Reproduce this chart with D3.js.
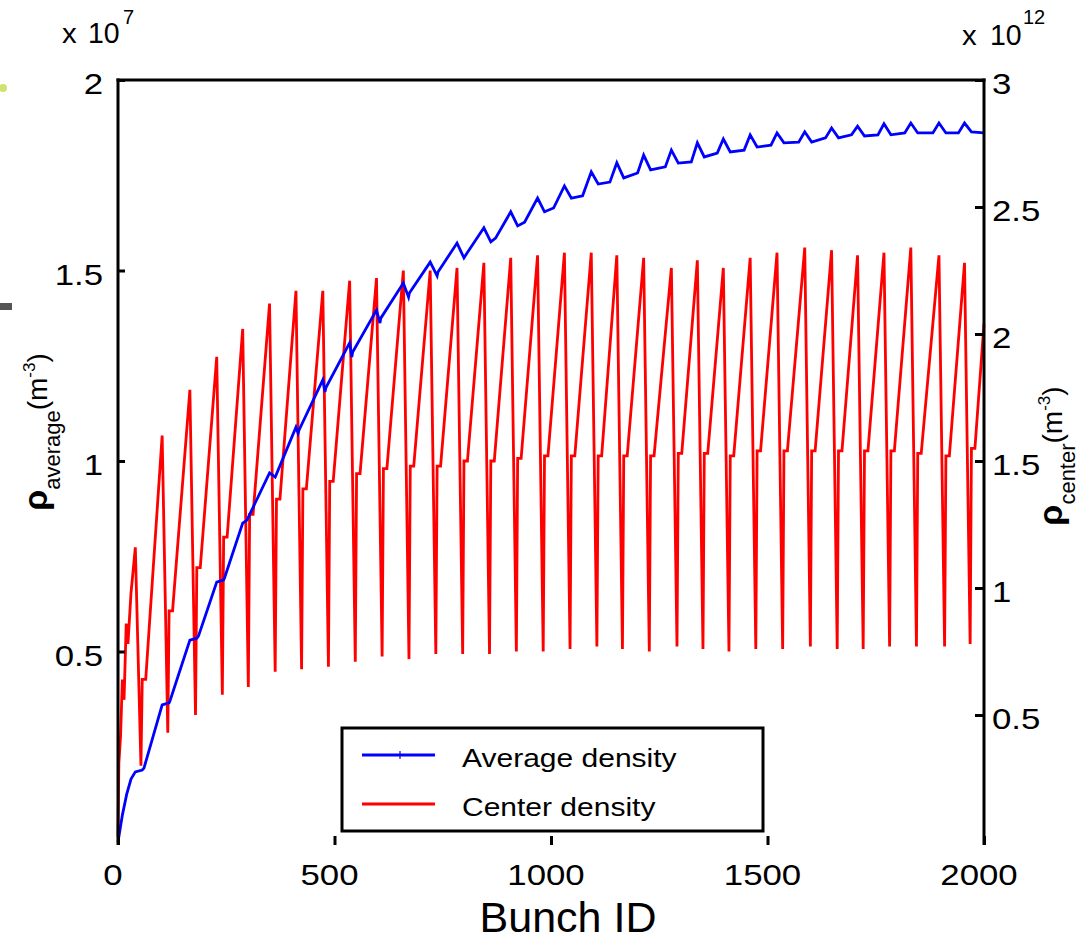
<!DOCTYPE html>
<html>
<head>
<meta charset="utf-8">
<script src="https://cdnjs.cloudflare.com/ajax/libs/d3/7.8.5/d3.min.js"></script>
<style>
  html, body { margin: 0; padding: 0; background: #fff; }
  svg { display: block; }
  text { font-family: "Liberation Sans", Arial, sans-serif; fill: #000; }
</style>
</head>
<body>
<div id="chart"></div>
<script>
// ---- values ----
var xTicks = [0, 500, 1000, 1500, 2000];
var leftTicks = [0.5, 1, 1.5, 2];            // x 10^7
var rightTicks = [0.5, 1, 1.5, 2, 2.5, 3];   // x 10^12

// bunch ID at the head of each train (where the center density spikes)
var trainBunch = [40, 102, 166, 228, 288, 350, 411, 473, 535, 597, 659, 721, 783, 845, 907, 969,
    1031, 1093, 1152, 1214, 1278, 1338, 1398, 1460, 1522, 1586, 1648, 1708, 1769, 1831, 1896, 1955];

// center density (x 10^12): spike top, bottom of the drop, level it jumps back to
var centerPeak = [1.16, 1.60, 1.78, 1.91, 2.02, 2.12, 2.17, 2.17, 2.21, 2.22, 2.25, 2.25, 2.26, 2.28, 2.30, 2.31,
    2.32, 2.32, 2.31, 2.30, 2.26, 2.29, 2.26, 2.30, 2.32, 2.34, 2.33, 2.31, 2.32, 2.34, 2.31, 2.28];
var centerLow = [0.30, 0.43, 0.50, 0.58, 0.61, 0.67, 0.68, 0.69, 0.71, 0.73, 0.72, 0.74, 0.74, 0.74, 0.75, 0.75,
    0.76, 0.77, 0.76, 0.75, 0.77, 0.76, 0.75, 0.76, 0.76, 0.77, 0.76, 0.76, 0.77, 0.77, 0.77, 0.78];
var centerMid = [0.64, 0.91, 1.08, 1.20, 1.29, 1.35, 1.39, 1.42, 1.45, 1.47, 1.48, 1.48, 1.50, 1.50, 1.51, 1.52,
    1.52, 1.52, 1.52, 1.52, 1.53, 1.53, 1.52, 1.54, 1.54, 1.54, 1.54, 1.54, 1.54, 1.53, 1.52, 1.55];
var centerLeadBunch = [0, 2, 6, 10, 14, 19, 23, 30];
var centerLeadVal = [0.02, 0.31, 0.42, 0.64, 0.56, 0.86, 0.78, 0.98];
var centerEnd = [2000, 2.04];

// average density (x 10^7): value at train head, after the small drop, end of the flat part
var avgPeak = [0.184, 0.360, 0.530, 0.682, 0.837, 0.969, 1.089, 1.213, 1.310, 1.396, 1.467, 1.522, 1.572, 1.612, 1.654, 1.690,
    1.722, 1.759, 1.783, 1.803, 1.816, 1.835, 1.845, 1.856, 1.861, 1.864, 1.874, 1.879, 1.885, 1.887, 1.887, 1.887];
var avgDrop = [0.189, 0.365, 0.535, 0.688, 0.845, 0.958, 1.073, 1.181, 1.273, 1.362, 1.430, 1.486, 1.533, 1.575, 1.617, 1.654,
    1.690, 1.727, 1.743, 1.764, 1.782, 1.798, 1.811, 1.824, 1.835, 1.837, 1.848, 1.853, 1.856, 1.861, 1.861, 1.864];
var avgFlat = [0.194, 0.370, 0.541, 0.693, 0.850, 0.963, 1.081, 1.192, 1.286, 1.375, 1.441, 1.496, 1.544, 1.585, 1.627, 1.664,
    1.696, 1.732, 1.756, 1.772, 1.785, 1.808, 1.816, 1.829, 1.837, 1.848, 1.856, 1.856, 1.861, 1.861, 1.861, 1.861];
// how many bunches before each train head the average starts climbing
var avgRise = [0, 42, 46, 42, 42, 50, 46, 55, 55, 55, 52, 48, 44, 40, 35, 30,
    25, 20, 16, 14, 14, 14, 14, 14, 14, 14, 14, 14, 14, 14, 14, 14];
var avgLeadBunch = [0, 10, 20, 30];
var avgLeadVal = [0, 0.07, 0.125, 0.165];

var seriesNames = ["Average density", "Center density"];

// ---- build the point lists ----
var centerPts = centerLeadBunch.map(function (b, i) { return [b, centerLeadVal[i]]; });
trainBunch.forEach(function (b, k) {
    centerPts.push([b, centerPeak[k]]);
    centerPts.push([b + 13, centerLow[k]]);
    centerPts.push([b + 16, centerMid[k]]);
    centerPts.push([b + 24, centerMid[k]]);
});
centerPts.push(centerEnd);

var avgPts = avgLeadBunch.map(function (b, i) { return [b, avgLeadVal[i]]; });
trainBunch.forEach(function (b, k) {
    var next = k + 1 < trainBunch.length ? trainBunch[k + 1] : 2000;
    var rise = k + 1 < trainBunch.length ? avgRise[k + 1] : 0;
    var gap = next - b;
    var fall = Math.min(16, gap - rise - 2);
    avgPts.push([b, avgPeak[k]]);
    avgPts.push([b + fall, avgDrop[k]]);
    avgPts.push([next - rise, avgFlat[k]]);
});

// ---- svg ----
var W = 1083, H = 941;
var svg = d3.select("#chart").append("svg")
    .attr("width", W).attr("height", H);

var x = d3.scaleLinear().domain([0, 2000]).range([118, 984]);
var yL = d3.scaleLinear().domain([0, 2]).range([842, 80]);
var yR = d3.scaleLinear().domain([0, 3]).range([842, 80]);

function txt(str, px, py, size, anchor, sx) {
    return svg.append("text")
        .attr("transform", "translate(" + px + "," + py + ") scale(" + sx + ",1)")
        .attr("font-size", size)
        .attr("text-anchor", anchor)
        .text(str);
}

// scan artefacts on the left edge
svg.append("circle").attr("cx", 3).attr("cy", 88).attr("r", 4).attr("fill", "#c6d84a").attr("opacity", 0.8);
svg.append("rect").attr("x", 0).attr("y", 303).attr("width", 12).attr("height", 7).attr("fill", "#555");

// lines
svg.append("path")
    .datum(centerPts)
    .attr("fill", "none")
    .attr("stroke", "#ff0000")
    .attr("stroke-width", 2.8)
    .attr("d", d3.line().x(function (d) { return x(d[0]); }).y(function (d) { return yR(d[1]); }));

svg.append("path")
    .datum(avgPts)
    .attr("fill", "none")
    .attr("stroke", "#0000ff")
    .attr("stroke-width", 2.8)
    .attr("d", d3.line().x(function (d) { return x(d[0]); }).y(function (d) { return yL(d[1]); }));

// axes: ticks from d3, frame drawn as lines
svg.append("g")
    .attr("transform", "translate(118,0)")
    .call(d3.axisLeft(yL).tickValues(leftTicks).tickSizeInner(-7).tickSizeOuter(0).tickFormat(""))
    .call(function (g) { g.select(".domain").remove(); })
    .selectAll("line").attr("stroke", "#000").attr("stroke-width", 3);

svg.append("g")
    .attr("transform", "translate(984,0)")
    .call(d3.axisRight(yR).tickValues(rightTicks).tickSizeInner(-9).tickSizeOuter(0).tickFormat(""))
    .call(function (g) { g.select(".domain").remove(); })
    .selectAll("line").attr("stroke", "#000").attr("stroke-width", 3);

svg.append("g")
    .attr("transform", "translate(0,845)")
    .call(d3.axisBottom(x).tickValues(xTicks).tickSizeInner(-9).tickSizeOuter(0).tickFormat(""))
    .call(function (g) { g.select(".domain").remove(); })
    .selectAll("line").attr("stroke", "#000").attr("stroke-width", 3);

svg.append("line").attr("x1", 118).attr("x2", 118).attr("y1", 78.5).attr("y2", 845)
    .attr("stroke", "#000").attr("stroke-width", 3);
svg.append("line").attr("x1", 984).attr("x2", 984).attr("y1", 78.5).attr("y2", 845)
    .attr("stroke", "#000").attr("stroke-width", 3);
svg.append("line").attr("x1", 116.5).attr("x2", 985.5).attr("y1", 80).attr("y2", 80)
    .attr("stroke", "#000").attr("stroke-width", 3);

// tick labels
leftTicks.forEach(function (v) { txt(String(v), 103, yL(v) + 14, 30, "end", 1.16); });
rightTicks.forEach(function (v) { txt(String(v), 992, yR(v) + 14, 30, "start", 1.16); });
xTicks.forEach(function (v) { txt(String(v), x(v) - 5, 885, 30, "middle", 1.16); });

// exponent labels
txt("x", 62, 43, 28, "start", 1.05);
txt("10", 88, 43, 30, "start", 0.95);
txt("7", 123, 24, 20, "start", 1.0);
txt("x", 962, 45, 28, "start", 1.05);
txt("10", 990, 45, 30, "start", 0.95);
txt("12", 1023, 24, 20, "start", 1.0);

// axis titles
txt("Bunch ID", 568, 932, 43, "middle", 1.0);

function yTitle(px, py, sub) {
    var t = svg.append("text")
        .attr("transform", "translate(" + px + "," + py + ") rotate(-90)")
        .attr("text-anchor", "middle");
    t.append("tspan").attr("font-size", 34).attr("font-weight", "bold").text("\u03c1");
    t.append("tspan").attr("font-size", 22).attr("dy", 13).text(sub);
    t.append("tspan").attr("font-size", 28).attr("dy", -13).text("(m");
    t.append("tspan").attr("font-size", 17).attr("dy", -12).text("-3");
    t.append("tspan").attr("font-size", 28).attr("dy", 12).text(")");
}
yTitle(47, 432, "average");
yTitle(1062, 456, "center");

// legend
var leg = svg.append("g");
leg.append("rect").attr("x", 342).attr("y", 728).attr("width", 421).attr("height", 103)
    .attr("fill", "#fff").attr("stroke", "#000").attr("stroke-width", 3);
var legColors = ["#0000ff", "#ff0000"];
var legY = [755, 804];
seriesNames.forEach(function (name, i) {
    leg.append("line").attr("x1", 362).attr("x2", 435).attr("y1", legY[i]).attr("y2", legY[i])
        .attr("stroke", legColors[i]).attr("stroke-width", 3);
    txt(name, 462, legY[i] + 12, 25, "start", 1.2);
});
// small '+' marker on the average-density sample
leg.append("path").attr("d", "M400,751 V759 M397,755 H403")
    .attr("stroke", "#0000ff").attr("stroke-width", 2).attr("opacity", 0.6);
</script>
</body>
</html>
